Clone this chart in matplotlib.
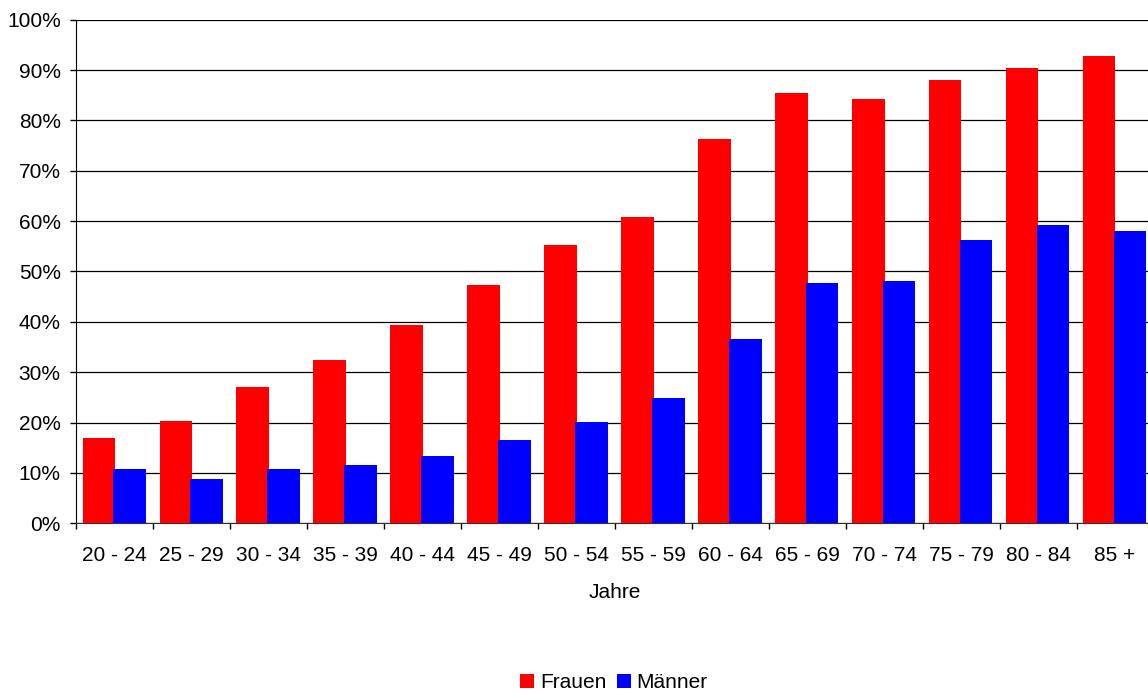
import numpy as np
import matplotlib
matplotlib.use("Agg")
import matplotlib.pyplot as plt
from matplotlib.ticker import FuncFormatter, MultipleLocator

# Anteil nach Altersgruppe
age_groups = ["20 - 24", "25 - 29", "30 - 34", "35 - 39", "40 - 44", "45 - 49", "50 - 54",
              "55 - 59", "60 - 64", "65 - 69", "70 - 74", "75 - 79", "80 - 84", "85 +"]
frauen = [16.9, 20.4, 27.0, 32.4, 39.3, 47.4, 55.3, 60.9, 76.3, 85.5, 84.2, 88.0, 90.5, 92.8]
maenner = [10.7, 8.7, 10.7, 11.6, 13.3, 16.6, 20.2, 24.8, 36.5, 47.7, 48.1, 56.3, 59.3, 58.1]

plt.rcParams['font.family'] = ['Liberation Sans', 'DejaVu Sans']
plt.rcParams['font.size'] = 15

fig = plt.figure(figsize=(11.48, 6.91), dpi=100)
ax = fig.add_axes([0.0662, 0.2427, 0.9386, 0.7288])

x = np.arange(len(age_groups))
w = 0.42
ax.bar(x - 0.205, frauen, width=w, color='#ff0000', label='Frauen', zorder=3)
ax.bar(x + 0.197, maenner, width=w, color='#0000ff', label='Männer', zorder=3)

ax.set_xlim(-0.5, len(age_groups) - 0.5)
ax.set_ylim(0, 100)

# y-Achse in Prozent, Gitterlinien alle 10 %
ax.yaxis.set_major_locator(MultipleLocator(10))
ax.yaxis.set_major_formatter(FuncFormatter(lambda v, p: f"{v:.0f}%"))
ax.grid(axis='y', color='black', linewidth=0.9, zorder=0)
ax.tick_params(axis='y', direction='out', length=4, width=1, pad=7, labelsize=15)

# Kategorien: Beschriftung mittig, Striche an den Grenzen
ax.set_xticks(x)
ax.set_xticklabels(age_groups)
ax.set_xticks(np.arange(-0.5, len(age_groups)), minor=True)
ax.tick_params(axis='x', which='major', length=0, pad=16.5, labelsize=15)
ax.tick_params(axis='x', which='minor', direction='out', length=4.5, width=1)

ax.set_xlabel('Jahre', labelpad=13, fontsize=15)

for side in ['top', 'right']:
    ax.spines[side].set_visible(False)
ax.spines['left'].set_color('black')
ax.spines['bottom'].set_color('#333333')

fig.legend(loc='center', bbox_to_anchor=(614 / 1148, 1 - 683 / 691), ncol=2,
           frameon=False, handlelength=0.67, handleheight=0.67, handletextpad=0.27,
           columnspacing=0.5, fontsize=15, borderpad=0)

fig.savefig('out.png', dpi=100, facecolor='white')
